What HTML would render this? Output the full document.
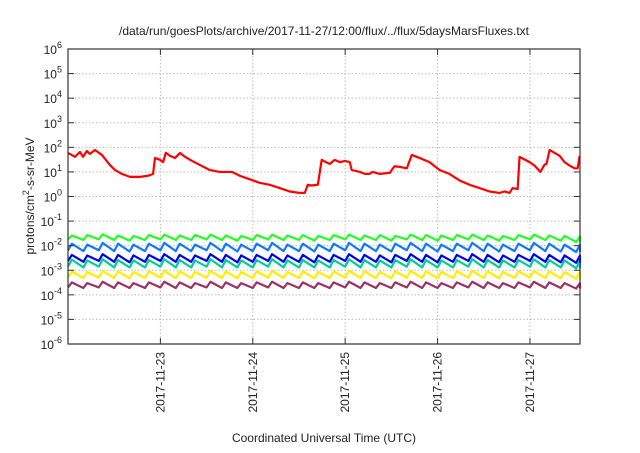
<!DOCTYPE html>
<html><head><meta charset="utf-8"><style>
body{margin:0;background:#fff}
text{font-family:"Liberation Sans",sans-serif;fill:#222}
</style></head><body>
<svg id="chart" width="640" height="448" viewBox="0 0 640 448">
<text x="324" y="35" font-size="12" text-anchor="middle">/data/run/goesPlots/archive/2017-11-27/12:00/flux/../flux/5daysMarsFluxes.txt</text>
<text x="324" y="442" font-size="12" text-anchor="middle">Coordinated Universal Time (UTC)</text>
<text transform="translate(34,196) rotate(-90)" font-size="12" text-anchor="middle">protons/cm<tspan dy="-5" font-size="9">2</tspan><tspan dy="5">-s-sr-MeV</tspan></text>
<g id="grid"></g><g id="series"></g><g id="axes"></g>
</svg>
<script>
// ---- data ----
const dayTicks = ['2017-11-23','2017-11-24','2017-11-25','2017-11-26','2017-11-27'];
const dayTickHours = [24,48,72,96,120];
const yTickExps = [-6,-5,-4,-3,-2,-1,0,1,2,3,4,5,6];
const redHours = [0,1.8,3.1,3.9,4.9,5.7,7.0,8.8,10.9,12.2,14.0,16.1,18.7,20.8,22.1,22.6,23.9,24.7,25.4,26.5,27.8,29.1,30.4,31.7,34.3,36.8,39.4,42.6,44.6,47.2,49.8,52.4,55.0,57.6,60.2,61.5,62.3,63.3,64.9,65.9,67.0,68.0,69.3,70.6,71.9,73.2,73.7,75.8,77.1,78.4,79.1,81.0,83.6,84.8,86.2,88.0,89.3,91.3,93.9,96.5,99.1,101.7,104.3,106.9,109.5,112.1,113.4,114.7,115.5,116.8,117.3,119.9,121.2,122.7,123.8,124.3,125.1,127.7,129.0,130.3,131.6,132.4,132.9];
const redValues = [59,41,65,41,71,54,78,49,19,12,8.3,6.3,6.3,7,8.3,37,31,25,60,45,37,59,41,31,19,12,10,10,7,5,3.6,3.0,2.2,1.6,1.4,1.4,3.0,2.8,3.0,31,25,21,31,25,28,25,12,10,8.3,8.3,10,8.3,9.2,17,16,14,49,37,25,12,8.3,4.5,3.0,2.2,1.6,1.4,1.6,1.4,2.2,2.0,41,25,18,10,20,21,78,45,25,18,14,14,45];
const cycleHours = [0,4,8,12,16,20,24,28,32,36,40,44,48,52,56,60,64,68,72,76,80,84,88,92,96,100,104,108,112,116,120,124,128,132];
const greenPeak = [0.026,0.027,0.029,0.026,0.025,0.027,0.028,0.026,0.027,0.028,0.026,0.025,0.027,0.028,0.026,0.027,0.025,0.027,0.028,0.026,0.027,0.025,0.028,0.027,0.026,0.027,0.028,0.026,0.025,0.027,0.028,0.026,0.025,0.024];
const greenLow = [0.018,0.017,0.018,0.017,0.016,0.017,0.018,0.017,0.017,0.018,0.017,0.016,0.017,0.018,0.017,0.017,0.016,0.017,0.018,0.017,0.017,0.016,0.018,0.017,0.016,0.017,0.018,0.017,0.016,0.017,0.018,0.017,0.016,0.014];
const lblPeak = [0.012,0.011,0.013,0.012,0.011,0.012,0.013,0.012,0.011,0.013,0.012,0.011,0.012,0.013,0.011,0.012,0.011,0.012,0.013,0.012,0.011,0.012,0.013,0.012,0.011,0.012,0.013,0.012,0.011,0.012,0.013,0.012,0.011,0.011];
const lblLow = [0.0065,0.006,0.0065,0.006,0.0058,0.006,0.0065,0.006,0.006,0.0065,0.006,0.0058,0.006,0.0065,0.006,0.006,0.0058,0.006,0.0065,0.006,0.006,0.0058,0.0065,0.006,0.0058,0.006,0.0065,0.006,0.0058,0.006,0.0065,0.006,0.0058,0.0055];
const bluePeak = [0.0042,0.004,0.0045,0.0042,0.004,0.0042,0.0045,0.0042,0.004,0.0045,0.0042,0.004,0.0042,0.0045,0.004,0.0042,0.004,0.0042,0.0045,0.0042,0.004,0.0042,0.0045,0.0042,0.004,0.0042,0.0045,0.0042,0.004,0.0042,0.0045,0.0042,0.004,0.004];
const blueLow = [0.0024,0.0022,0.0024,0.0022,0.0021,0.0022,0.0024,0.0022,0.0022,0.0024,0.0022,0.0021,0.0022,0.0024,0.0022,0.0022,0.0021,0.0022,0.0024,0.0022,0.0022,0.0021,0.0024,0.0022,0.0021,0.0022,0.0024,0.0022,0.0021,0.0022,0.0024,0.0022,0.0021,0.002];
const tealPeak = [0.0027,0.0025,0.0028,0.0026,0.0025,0.0026,0.0028,0.0026,0.0025,0.0028,0.0026,0.0025,0.0026,0.0028,0.0025,0.0026,0.0025,0.0026,0.0028,0.0026,0.0025,0.0026,0.0028,0.0026,0.0025,0.0026,0.0028,0.0026,0.0025,0.0026,0.0028,0.0026,0.0025,0.0024];
const tealLow = [0.0014,0.0013,0.0014,0.0013,0.0013,0.0013,0.0014,0.0013,0.0013,0.0014,0.0013,0.0013,0.0013,0.0014,0.0013,0.0013,0.0013,0.0013,0.0014,0.0013,0.0013,0.0013,0.0014,0.0013,0.0013,0.0013,0.0014,0.0013,0.0013,0.0013,0.0014,0.0013,0.0013,0.0012];
const yelPeak = [0.0009,0.00085,0.00095,0.0009,0.00085,0.0009,0.00095,0.0009,0.00085,0.00095,0.0009,0.00085,0.0009,0.00095,0.00085,0.0009,0.00085,0.0009,0.00095,0.0009,0.00085,0.0009,0.00095,0.0009,0.00085,0.0009,0.00095,0.0009,0.00085,0.0009,0.00095,0.0009,0.00085,0.00085];
const yelLow = [0.0005,0.00048,0.0005,0.00048,0.00047,0.00048,0.0005,0.00048,0.00048,0.0005,0.00048,0.00047,0.00048,0.0005,0.00048,0.00048,0.00047,0.00048,0.0005,0.00048,0.00048,0.00047,0.0005,0.00048,0.00047,0.00048,0.0005,0.00048,0.00047,0.00048,0.0005,0.00048,0.00047,0.00045];
const purPeak = [0.00032,0.0003,0.00034,0.00032,0.0003,0.00032,0.00034,0.00032,0.0003,0.00034,0.00032,0.0003,0.00032,0.00034,0.0003,0.00032,0.0003,0.00032,0.00034,0.00032,0.0003,0.00032,0.00034,0.00032,0.0003,0.00032,0.00034,0.00032,0.0003,0.00032,0.00034,0.00032,0.0003,0.0003];
const purLow = [0.0002,0.00019,0.0002,0.00019,0.00019,0.00019,0.0002,0.00019,0.00019,0.0002,0.00019,0.00019,0.00019,0.0002,0.00019,0.00019,0.00019,0.00019,0.0002,0.00019,0.00019,0.00019,0.0002,0.00019,0.00019,0.00019,0.0002,0.00019,0.00019,0.00019,0.0002,0.00019,0.00019,0.00018];

// ---- layout ----
const L=68,R=580,T=49,B=344, H0=0, H1=133;
const xs=h=>L+(h-H0)/(H1-H0)*(R-L);
const ys=v=>T+(6-Math.log10(v))/12*(B-T);
const NS='http://www.w3.org/2000/svg';
function mk(tag,parent,attrs){const e=document.createElementNS(NS,tag);for(const k in attrs)e.setAttribute(k,attrs[k]);parent.appendChild(e);return e;}
const grid=document.getElementById('grid'),ser=document.getElementById('series'),ax=document.getElementById('axes');

yTickExps.forEach(e=>{
  const y=ys(Math.pow(10,e));
  if(e>-6&&e<6){const g=mk('line',grid,{x1:L,x2:R,y1:y,y2:y,stroke:'#bbb','stroke-dasharray':'1.5,2','stroke-width':1});
  
  }
  mk('line',ax,{x1:L,x2:L+6,y1:y,y2:y,stroke:'#333'});
  mk('line',ax,{x1:R-6,x2:R,y1:y,y2:y,stroke:'#333'});
  const t=mk('text',ax,{x:L-6,y:y+5,'font-size':12,'text-anchor':'end'});
  
  
  t.textContent='10';
  const s=mk('tspan',t,{dy:-6,'font-size':9});s.textContent=String(e);
});
dayTickHours.forEach((h,i)=>{
  const x=xs(h);
  const g=mk('line',grid,{x1:x,x2:x,y1:T,y2:B,stroke:'#bbb','stroke-dasharray':'1.5,2','stroke-width':1});
  
  
  mk('line',ax,{x1:x,x2:x,y1:B,y2:B-6,stroke:'#333'});
  mk('line',ax,{x1:x,x2:x,y1:T,y2:T+6,stroke:'#333'});
  const t=mk('text',ax,{transform:`translate(${x+4},${B+8}) rotate(-90)`,'font-size':12,'text-anchor':'end'});
  
  
  t.textContent=dayTicks[i];
});
const fr=mk('rect',ax,{x:L,y:T,width:R-L,height:B-T,fill:'none',stroke:'#333','stroke-width':1.2});



function saw(peaks,lows,color,name){
  let d='';
  cycleHours.forEach((h,i)=>{
    const p=peaks[i],lo=lows[i];
    const x0=xs(h),x1=xs(h+1),x2=xs(Math.min(h+4,H1));
    d+=(i?'L':'M')+x0+','+ys(lo)+'L'+x1+','+ys(p)+'L'+x2+','+ys(i+1<lows.length?lows[i+1]:lo);
  });
  const p=mk('path',ser,{d:d,fill:'none',stroke:color,'stroke-width':2.2,'stroke-linejoin':'round'});
  
  
}
saw(purPeak,purLow,'#993366','series-purple');
saw(yelPeak,yelLow,'#ffee00','series-yellow');
saw(tealPeak,tealLow,'#00cc99','series-teal');
saw(bluePeak,blueLow,'#0000ee','series-blue');
saw(lblPeak,lblLow,'#1177ff','series-lightblue');
saw(greenPeak,greenLow,'#22ff22','series-green');
let d='';
redHours.forEach((h,i)=>{d+=(i?'L':'M')+xs(h)+','+ys(redValues[i]);});
const rp=mk('path',ser,{d:d,fill:'none',stroke:'#ff0000','stroke-width':2.2,'stroke-linejoin':'round'});


</script>
</body></html>
